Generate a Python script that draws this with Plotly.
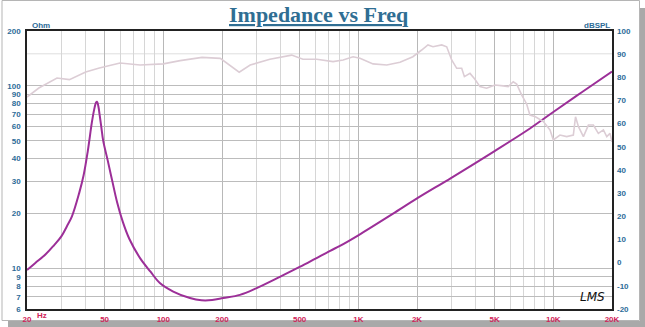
import plotly.graph_objects as go
import math

# ---------------- data ----------------
imp_freq = [20, 22, 25, 27.5, 30, 32, 34, 37, 39, 41, 43, 44.2, 45.2, 45.7, 46.5,
            47.1, 48.1, 49.2, 51.9, 54.8, 58, 62, 67, 76, 86, 96, 112.5, 137, 157, 178,
            203, 247, 301, 396, 500, 600, 717, 805, 1000, 1500, 2000, 3000, 5000, 7590,
            10000, 14000, 20000]
imp_ohm = [9.8, 10.7, 12.0, 13.4, 15.0, 17.0, 19.3, 25.8, 32.3, 44.0, 62.9, 74.2, 81.2, 82.0, 77.0,
           70.0, 59.5, 50.0, 39.0, 30.0, 23.0, 18.0, 14.5, 11.4, 9.6, 8.33, 7.48, 6.89, 6.7, 6.72,
           6.89, 7.17, 7.81, 9.0, 10.2, 11.3, 12.5, 13.3, 15.2, 19.9, 24.2, 31.4, 44.0, 58.5,
           72.0, 92.4, 120.0]

spl_freq = [20, 23, 28.5, 33, 40, 47, 60, 76, 100, 122, 158, 196, 245, 279, 352, 455, 520,
            612, 742, 836, 940, 1020, 1190, 1400, 1636, 1905, 2113, 2276, 2416, 2678, 2840,
            3012, 3197, 3390, 3500, 3740, 3963, 4205, 4550, 5020, 5540, 5870, 6230, 6490,
            6880, 7300, 7590, 8100, 8890, 9620, 10000, 10300, 10820, 11710, 12670, 13000,
            13460, 14270, 15140, 16050, 17020, 18070, 18800, 19540, 20000]
spl_db = [71.5, 75.4, 79.7, 79.0, 82.3, 84.0, 86.2, 85.3, 85.8, 87.2, 88.6, 88.2, 82.2, 85.3,
          87.8, 89.6, 87.8, 87.8, 86.8, 87.5, 88.9, 88.2, 85.8, 85.3, 86.5, 88.9, 91.8, 94.0,
          93.2, 94.0, 93.2, 87.5, 83.9, 83.9, 80.3, 81.7, 79.2, 76.0, 75.3, 76.7, 76.3, 76.0,
          78.1, 77.1, 72.4, 68.5, 63.7, 63.0, 60.9, 57.3, 53.0, 53.8, 55.1, 54.4, 55.1, 63.0,
          58.7, 54.4, 59.4, 59.4, 55.8, 57.3, 54.4, 55.8, 52.2]

x_tickvals = [20, 50, 100, 200, 500, 1000, 2000, 5000, 10000, 20000]
x_ticktext = ["20", "50", "100", "200", "500", "1K", "2K", "5K", "10K", "20K"]
ohm_tickvals = [6, 7, 8, 9, 10, 20, 30, 40, 50, 60, 70, 80, 90, 100, 200]
ohm_grid_extra = [150]
db_tickvals = [100, 90, 80, 70, 60, 50, 40, 30, 20, 10, 0, -10, -20]
db_ticktext = ["100", "90", "80", "70", "60", "50", "40", "30", "20", "10", "0", "-10", "-20"]

# ---------------- layout geometry ----------------
W, H = 645, 327
L, R, T, B = 27, 612, 31, 309

def px(xp):
    return (xp - L) / (R - L)

def py(yp):
    return (B - yp) / (B - T)

blue = "#2d6c98"
red = "#d0245a"
tick_font = dict(family="Liberation Sans, Arial, sans-serif", size=8, color=blue)

def bold(items):
    return ["<b>%s</b>" % s for s in items]

fig = go.Figure()

# SPL (right axis)
fig.add_trace(go.Scatter(x=spl_freq, y=spl_db, yaxis="y2", mode="lines",
                         line=dict(color="#dccdd5", width=1.6),
                         hoverinfo="skip", showlegend=False))
# Impedance (left axis)
fig.add_trace(go.Scatter(x=imp_freq, y=imp_ohm, mode="lines",
                         line=dict(color="#9c2f98", width=2, shape="spline", smoothing=1.0),
                         showlegend=False))

fig.update_layout(
    width=W, height=H,
    margin=dict(l=L, r=W - R, t=T, b=H - B, pad=0, autoexpand=False),
    paper_bgcolor="white", plot_bgcolor="white",
    xaxis=dict(type="log", range=[math.log10(20), math.log10(20000)],
               tickvals=x_tickvals, ticktext=bold(x_ticktext), ticks="",
               tickfont=dict(family="Liberation Sans, Arial, sans-serif", size=8, color=red),
               showgrid=True, gridcolor="#b8b8b8", gridwidth=1,
               minor=dict(showgrid=True, gridcolor="#d6d6d6", gridwidth=1, dtick="D1"),
               showline=True, linecolor="#222222", linewidth=1.5, mirror=True,
               zeroline=False, ticklabelstandoff=2, automargin=False),
    yaxis=dict(type="log", range=[math.log10(6), math.log10(200)],
               tickvals=ohm_tickvals, ticktext=bold([str(v) for v in ohm_tickvals]),
               ticks="", tickfont=tick_font,
               showgrid=True, gridcolor="#bcbcbc", gridwidth=1,
               showline=True, linecolor="#222222", linewidth=1.5, mirror=True,
               zeroline=False, ticklabelstandoff=3, automargin=False),
    yaxis2=dict(range=[-20, 100], overlaying="y", side="right",
                tickvals=db_tickvals, ticktext=bold(db_ticktext), ticks="",
                tickfont=tick_font, showgrid=False, zeroline=False,
                showline=False, ticklabelstandoff=4, automargin=False),
    font=dict(family="Liberation Sans, Arial, sans-serif"),
)

shapes = []
for v in ohm_grid_extra:
    shapes.append(dict(type="line", xref="paper", yref="y", x0=0, x1=1, y0=v, y1=v,
                       line=dict(color="#dedede", width=1), layer="below"))
shapes.append(dict(type="rect", xref="paper", yref="paper",
                   x0=px(8), x1=px(645), y0=py(327), y1=py(321),
                   fillcolor="#a9a9a9", line=dict(width=0), layer="below"))
shapes.append(dict(type="rect", xref="paper", yref="paper",
                   x0=px(640), x1=px(645), y0=py(327), y1=py(8),
                   fillcolor="#a9a9a9", line=dict(width=0), layer="below"))
shapes.append(dict(type="rect", xref="paper", yref="paper",
                   x0=px(2), x1=px(639.5), y0=py(320.5), y1=py(0.5),
                   fillcolor="rgba(0,0,0,0)", line=dict(color="#b5b5b5", width=1), layer="below"))
fig.update_layout(shapes=shapes)

annotations = [
    dict(text="<b><u>Impedance vs Freq</u></b>", xref="paper", yref="paper",
         x=px(319), y=py(15), showarrow=False, xanchor="center", yanchor="middle",
         font=dict(family="Liberation Serif, Times New Roman, serif", size=22, color="#2f6e93")),
    dict(text="<b>Ohm</b>", xref="paper", yref="paper", x=px(30), y=py(26),
         showarrow=False, xanchor="left", yanchor="middle",
         font=dict(family="Liberation Sans, Arial, sans-serif", size=8, color=blue)),
    dict(text="<b>dBSPL</b>", xref="paper", yref="paper", x=px(612), y=py(26),
         showarrow=False, xanchor="right", yanchor="middle",
         font=dict(family="Liberation Sans, Arial, sans-serif", size=8, color=blue)),
    dict(text="<b>Hz</b>", xref="paper", yref="paper", x=px(42), y=py(315.5),
         showarrow=False, xanchor="center", yanchor="middle",
         font=dict(family="Liberation Sans, Arial, sans-serif", size=8, color=red)),
    dict(text="<i>LMS</i>", xref="paper", yref="paper", x=px(592), y=py(297),
         showarrow=False, xanchor="center", yanchor="middle",
         font=dict(family="DejaVu Sans, sans-serif", size=12, color="#111111")),
]
fig.update_layout(annotations=annotations)

fig.write_html("out.html")
